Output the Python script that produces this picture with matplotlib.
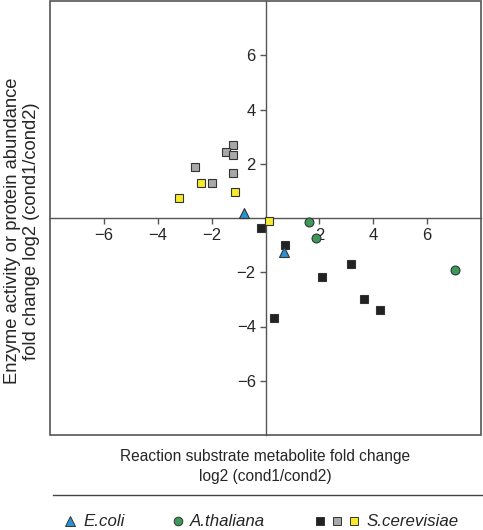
import matplotlib
matplotlib.use("Agg")
import matplotlib.pyplot as plt
from matplotlib.lines import Line2D
from matplotlib.patches import Rectangle

plt.rcParams['font.family'] = ['Liberation Sans', 'DejaVu Sans']

# E.coli (triangles)
ecoli_x = [-0.78, 0.67]
ecoli_y = [0.18, -1.24]

# A.thaliana (circles)
ath_x = [1.61, 1.88, 7.05]
ath_y = [-0.14, -0.73, -1.93]

# S.cerevisiae, three groups of squares
sc_black_x = [-0.16, 0.74, 2.08, 3.18, 3.67, 4.24, 0.31]
sc_black_y = [-0.37, -1.00, -2.19, -1.70, -3.00, -3.40, -3.69]
sc_gray_x = [-1.22, -1.46, -1.19, -2.60, -1.20, -1.97]
sc_gray_y = [2.69, 2.42, 2.32, 1.89, 1.66, 1.29]
sc_yellow_x = [-3.20, -2.40, -1.13, 0.14]
sc_yellow_y = [0.75, 1.28, 0.95, -0.10]

ticks = [-6, -4, -2, 2, 4, 6]

blue = '#2a93cf'
green = '#3b9a57'
gray = '#a8a8a8'
yellow = '#f6ea2e'
black = '#222222'
edge = '#333333'
axcol = '#555555'
txt = '#262626'

fig = plt.figure(figsize=(4.83, 5.30), dpi=100)
ax = fig.add_axes([50/483, 1 - 435/530, 431/483, 434/530])

ms = 6.4
ax.plot(sc_black_x, sc_black_y, 's', ms=ms, mfc=black, mec=edge, mew=0.8, zorder=3)
ax.plot(sc_gray_x, sc_gray_y, 's', ms=ms, mfc=gray, mec=edge, mew=0.8, zorder=3)
ax.plot(sc_yellow_x, sc_yellow_y, 's', ms=ms, mfc=yellow, mec=edge, mew=0.8, zorder=3)
ax.plot(ath_x, ath_y, 'o', ms=ms, mfc=green, mec=edge, mew=0.8, zorder=3)
ax.plot(ecoli_x, ecoli_y, '^', ms=ms + 0.6, mfc=blue, mec=edge, mew=0.8, zorder=3)

ax.set_xlim(-8, 8)
ax.set_ylim(-8, 8)
ax.spines['left'].set_position('zero')
ax.spines['bottom'].set_position('zero')
ax.spines['top'].set_visible(False)
ax.spines['right'].set_visible(False)
for s in ['left', 'bottom']:
    ax.spines[s].set_color(axcol)
    ax.spines[s].set_linewidth(1.0)
ax.add_patch(Rectangle((0, 0), 1, 1, transform=ax.transAxes, fill=False,
                       ec=axcol, lw=1.2, clip_on=False, zorder=0))

ax.set_xticks(ticks)
ax.set_yticks(ticks)
ax.tick_params(direction='out', length=4, width=1, color=axcol,
               labelsize=12, labelcolor=txt, pad=3)

fig.text(13/483, 1 - 231/530, 'Enzyme activity or protein abundance',
         rotation=90, ha='center', va='center', fontsize=13.2, color=txt)
fig.text(31/483, 1 - 231/530, 'fold change log2 (cond1/cond2)',
         rotation=90, ha='center', va='center', fontsize=13.2, color=txt)
fig.text(265/483, 1 - 457/530, 'Reaction substrate metabolite fold change',
         ha='center', va='center', fontsize=11.2, color=txt)
fig.text(265/483, 1 - 477/530, 'log2 (cond1/cond2)',
         ha='center', va='center', fontsize=11.2, color=txt)

# separator line
fig.add_artist(Line2D([53/483, 1.0], [1 - 495/530, 1 - 495/530],
                      color='#444444', lw=1.0))

# legend row
ly = 1 - 521/530
lms = 5.8
lfs = 12.2
fig.add_artist(Line2D([70/483], [ly], marker='^', ms=lms + 0.8, mfc=blue, mec=edge, mew=0.7, ls=''))
fig.text(83/483, ly, 'E.coli', style='italic', fontsize=lfs, va='center', color=txt)
fig.add_artist(Line2D([178/483], [ly], marker='o', ms=lms + 0.4, mfc=green, mec=edge, mew=0.7, ls=''))
fig.text(190/483, ly, 'A.thaliana', style='italic', fontsize=lfs, va='center', color=txt)
for xp, c in zip([320, 337, 354], [black, gray, yellow]):
    fig.add_artist(Line2D([xp/483], [ly], marker='s', ms=lms, mfc=c, mec=edge, mew=0.7, ls=''))
fig.text(367/483, ly, 'S.cerevisiae', style='italic', fontsize=lfs, va='center', color=txt)

fig.savefig('out.png', dpi=100)
